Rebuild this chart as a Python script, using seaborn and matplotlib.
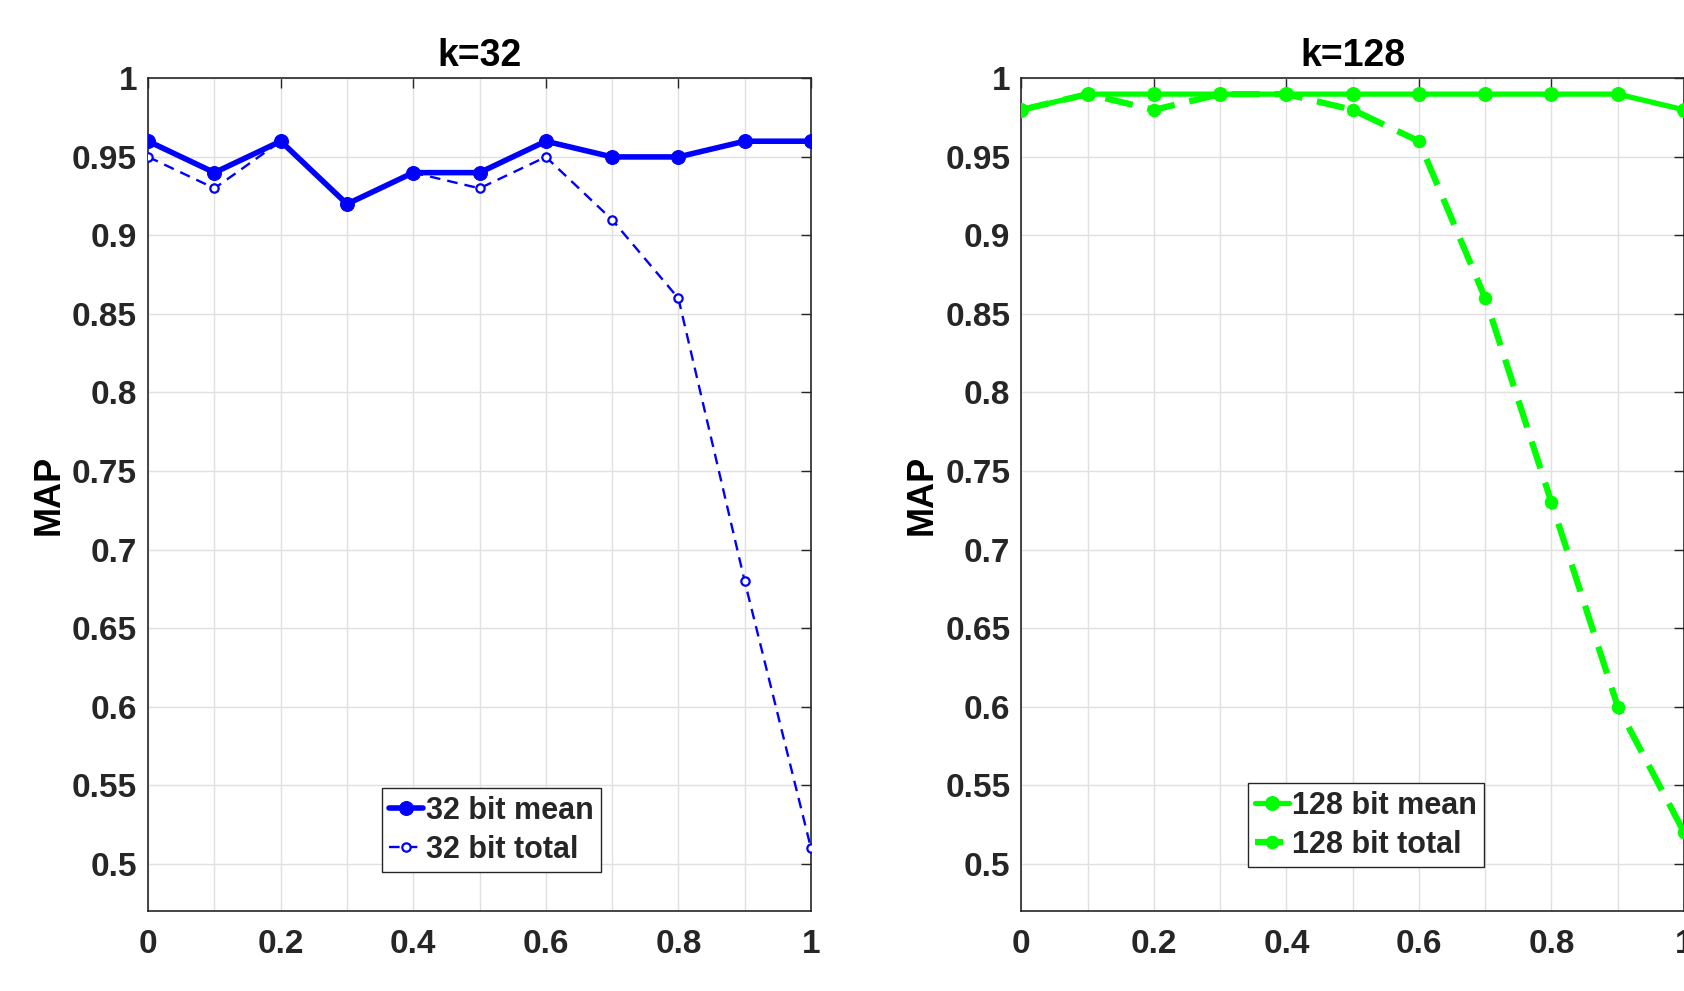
import numpy as np
import pandas as pd
import matplotlib
matplotlib.use("Agg")
import matplotlib.pyplot as plt
import seaborn as sns

# ---- data ----
beta = [0.0, 0.1, 0.2, 0.3, 0.4, 0.5, 0.6, 0.7, 0.8, 0.9, 1.0]
k32_mean = [0.96, 0.94, 0.96, 0.92, 0.94, 0.94, 0.96, 0.95, 0.95, 0.96, 0.96]
k32_total = [0.95, 0.93, 0.96, 0.92, 0.94, 0.93, 0.95, 0.91, 0.86, 0.68, 0.51]
k128_mean = [0.98, 0.99, 0.99, 0.99, 0.99, 0.99, 0.99, 0.99, 0.99, 0.99, 0.98]
k128_total = [0.98, 0.99, 0.98, 0.99, 0.99, 0.98, 0.96, 0.86, 0.73, 0.60, 0.52]
titles = ["k=32", "k=128"]
xticks = [0, 0.2, 0.4, 0.6, 0.8, 1]
xticklabels = ["0", "0.2", "0.4", "0.6", "0.8", "1"]
yticks = [0.5, 0.55, 0.6, 0.65, 0.7, 0.75, 0.8, 0.85, 0.9, 0.95, 1.0]
yticklabels = ["0.5", "0.55", "0.6", "0.65", "0.7", "0.75", "0.8", "0.85", "0.9", "0.95", "1"]

sns.set_style("white")
plt.rcParams['font.family'] = ['Liberation Sans', 'DejaVu Sans']
plt.rcParams['font.weight'] = 'bold'

W, H = 1684, 991
fig = plt.figure(figsize=(W / 100, H / 100), dpi=100)
top_px, bot_px = 78.4, 910.7
axL = fig.add_axes([148.2 / W, 1 - bot_px / H, (810.9 - 148.2) / W, (bot_px - top_px) / H])
axR = fig.add_axes([1021.4 / W, 1 - bot_px / H, (1684 - 1021.4) / W, (bot_px - top_px) / H])

dark = (0.15, 0.15, 0.15)
blue = (0, 0, 1)
green = (0, 1, 0)

sns.lineplot(x=beta, y=k32_total, ax=axL, color=blue, linestyle=(0, (4.5, 3)), linewidth=1.7,
             marker='o', markersize=6, markerfacecolor='white',
             markeredgecolor=blue, markeredgewidth=1.6, label="32 bit total", zorder=3)
sns.lineplot(x=beta, y=k32_mean, ax=axL, color=blue, linewidth=4.0,
             marker='o', markersize=10, markeredgecolor=blue, label="32 bit mean", zorder=4)

sns.lineplot(x=beta, y=k128_total, ax=axR, color=green, linestyle=(0, (4.5, 2.4)), linewidth=4.5,
             marker='o', markersize=9, markeredgecolor=green,
             label="128 bit total", zorder=3)
sns.lineplot(x=beta, y=k128_mean, ax=axR, color=green, linewidth=3.8,
             marker='o', markersize=10, markeredgecolor=green, label="128 bit mean", zorder=4)

for ax, title in zip([axL, axR], titles):
    ax.set_xlim(0, 1)
    ax.set_ylim(0.47, 1.0)
    ax.set_xticks(xticks)
    ax.set_xticklabels(xticklabels)
    ax.set_yticks(yticks)
    ax.set_yticklabels(yticklabels)
    ax.set_xticks([0.1, 0.3, 0.5, 0.7, 0.9], minor=True)
    ax.grid(True, which='both', color=(0.88, 0.88, 0.88), linewidth=1.0)
    ax.set_axisbelow(True)
    ax.tick_params(axis='both', which='major', direction='in', length=7, width=1.0,
                   color=dark, labelcolor=dark, labelsize=24, top=True, right=True)
    ax.tick_params(axis='x', which='major', pad=13)
    ax.tick_params(axis='y', which='major', pad=8)
    ax.tick_params(axis='both', which='minor', length=0)
    for lab in ax.get_xticklabels() + ax.get_yticklabels():
        lab.set_fontweight('bold')
    for s in ax.spines.values():
        s.set_color(dark)
        s.set_linewidth(1.2)
        s.set_visible(True)
    ax.set_title(title, fontsize=27, fontweight='bold', color='black', pad=9)
    ax.set_ylabel("MAP", fontsize=26, fontweight='bold', color='black', labelpad=4)
    ax.set_xlabel("β", fontsize=26, fontweight='bold', color='black', labelpad=26)

legkw = dict(loc='lower center', prop={'weight': 'bold', 'size': 22}, frameon=True,
             fancybox=False, edgecolor=(0.15, 0.15, 0.15), framealpha=1, handlelength=1.1,
             handletextpad=0.1, borderpad=0.25, labelspacing=0.3, borderaxespad=0)

handles, labels = axL.get_legend_handles_labels()
order = [labels.index("32 bit mean"), labels.index("32 bit total")]
legL = axL.legend([handles[i] for i in order], [labels[i] for i in order],
                  bbox_to_anchor=(0.518, 0.046), **legkw)
legL.get_frame().set_linewidth(1.0)

handles, labels = axR.get_legend_handles_labels()
order = [labels.index("128 bit mean"), labels.index("128 bit total")]
legR = axR.legend([handles[i] for i in order], [labels[i] for i in order],
                  bbox_to_anchor=(0.52, 0.052), **legkw)
legR.get_frame().set_linewidth(1.0)

fig.savefig("out.png", dpi=100)
